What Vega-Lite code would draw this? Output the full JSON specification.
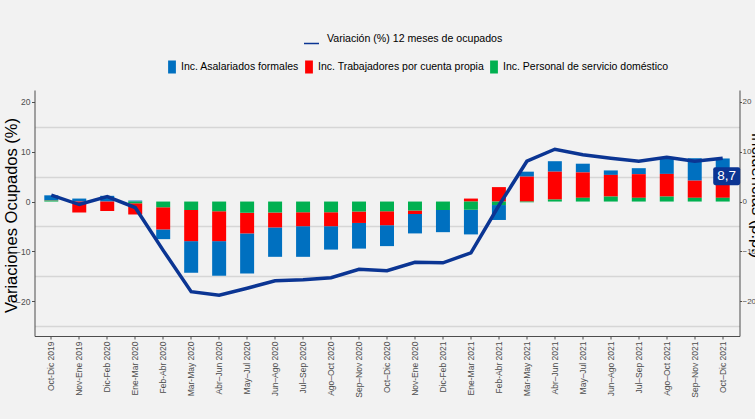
{
  "$schema": "https://vega.github.io/schema/vega-lite/v6.json",
  "width": 705,
  "height": 246,
  "autosize": {"type": "none"},
  "padding": {"left": 34.5, "top": 90, "right": 15.5, "bottom": 83},
  "background": "#F2F2F2",
  "config": {
    "view": {"stroke": null, "fill": "#F2F2F2"},
    "font": "Liberation Sans",
    "locale": {"number": {"decimal": ",", "thousands": ".", "grouping": [3], "currency": ["", " €"]}},
    "legend": {"padding": 0}
  },
  "datasets": {
    "barras": [
      {"periodo": "Oct-Dic 2019", "componente": "Inc. Asalariados formales", "valor": 1.0},
      {"periodo": "Oct-Dic 2019", "componente": "Inc. Trabajadores por cuenta propia", "valor": 0.05},
      {"periodo": "Oct-Dic 2019", "componente": "Inc. Personal de servicio doméstico", "valor": 0.2},
      {"periodo": "Nov-Ene 2019", "componente": "Inc. Asalariados formales", "valor": 0.6},
      {"periodo": "Nov-Ene 2019", "componente": "Inc. Trabajadores por cuenta propia", "valor": -2.2},
      {"periodo": "Nov-Ene 2019", "componente": "Inc. Personal de servicio doméstico", "valor": 0.0},
      {"periodo": "Dic-Feb 2020", "componente": "Inc. Asalariados formales", "valor": 1.15},
      {"periodo": "Dic-Feb 2020", "componente": "Inc. Trabajadores por cuenta propia", "valor": -1.9},
      {"periodo": "Dic-Feb 2020", "componente": "Inc. Personal de servicio doméstico", "valor": 0.0},
      {"periodo": "Ene-Mar 2020", "componente": "Inc. Asalariados formales", "valor": 0.2},
      {"periodo": "Ene-Mar 2020", "componente": "Inc. Trabajadores por cuenta propia", "valor": -2.25},
      {"periodo": "Ene-Mar 2020", "componente": "Inc. Personal de servicio doméstico", "valor": -0.35},
      {"periodo": "Feb-Abr 2020", "componente": "Inc. Asalariados formales", "valor": -1.95},
      {"periodo": "Feb-Abr 2020", "componente": "Inc. Trabajadores por cuenta propia", "valor": -4.45},
      {"periodo": "Feb-Abr 2020", "componente": "Inc. Personal de servicio doméstico", "valor": -1.15},
      {"periodo": "Mar-May 2020", "componente": "Inc. Asalariados formales", "valor": -6.35},
      {"periodo": "Mar-May 2020", "componente": "Inc. Trabajadores por cuenta propia", "valor": -6.25},
      {"periodo": "Mar-May 2020", "componente": "Inc. Personal de servicio doméstico", "valor": -1.7},
      {"periodo": "Abr–Jun 2020", "componente": "Inc. Asalariados formales", "valor": -6.95},
      {"periodo": "Abr–Jun 2020", "componente": "Inc. Trabajadores por cuenta propia", "valor": -6.0},
      {"periodo": "Abr–Jun 2020", "componente": "Inc. Personal de servicio doméstico", "valor": -1.95},
      {"periodo": "May–Jul 2020", "componente": "Inc. Asalariados formales", "valor": -8.05},
      {"periodo": "May–Jul 2020", "componente": "Inc. Trabajadores por cuenta propia", "valor": -4.15},
      {"periodo": "May–Jul 2020", "componente": "Inc. Personal de servicio doméstico", "valor": -2.25},
      {"periodo": "Jun–Ago 2020", "componente": "Inc. Asalariados formales", "valor": -5.9},
      {"periodo": "Jun–Ago 2020", "componente": "Inc. Trabajadores por cuenta propia", "valor": -3.0},
      {"periodo": "Jun–Ago 2020", "componente": "Inc. Personal de servicio doméstico", "valor": -2.2},
      {"periodo": "Jul–Sep 2020", "componente": "Inc. Asalariados formales", "valor": -6.15},
      {"periodo": "Jul–Sep 2020", "componente": "Inc. Trabajadores por cuenta propia", "valor": -2.8},
      {"periodo": "Jul–Sep 2020", "componente": "Inc. Personal de servicio doméstico", "valor": -2.15},
      {"periodo": "Ago–Oct 2020", "componente": "Inc. Asalariados formales", "valor": -4.7},
      {"periodo": "Ago–Oct 2020", "componente": "Inc. Trabajadores por cuenta propia", "valor": -2.8},
      {"periodo": "Ago–Oct 2020", "componente": "Inc. Personal de servicio doméstico", "valor": -2.15},
      {"periodo": "Sep–Nov 2020", "componente": "Inc. Asalariados formales", "valor": -5.15},
      {"periodo": "Sep–Nov 2020", "componente": "Inc. Trabajadores por cuenta propia", "valor": -2.3},
      {"periodo": "Sep–Nov 2020", "componente": "Inc. Personal de servicio doméstico", "valor": -2.0},
      {"periodo": "Oct–Dic 2020", "componente": "Inc. Asalariados formales", "valor": -4.2},
      {"periodo": "Oct–Dic 2020", "componente": "Inc. Trabajadores por cuenta propia", "valor": -2.8},
      {"periodo": "Oct–Dic 2020", "componente": "Inc. Personal de servicio doméstico", "valor": -1.95},
      {"periodo": "Nov-Ene 2020", "componente": "Inc. Asalariados formales", "valor": -3.9},
      {"periodo": "Nov-Ene 2020", "componente": "Inc. Trabajadores por cuenta propia", "valor": -0.7},
      {"periodo": "Nov-Ene 2020", "componente": "Inc. Personal de servicio doméstico", "valor": -1.8},
      {"periodo": "Dic-Feb 2021", "componente": "Inc. Asalariados formales", "valor": -4.45},
      {"periodo": "Dic-Feb 2021", "componente": "Inc. Trabajadores por cuenta propia", "valor": 0.0},
      {"periodo": "Dic-Feb 2021", "componente": "Inc. Personal de servicio doméstico", "valor": -1.7},
      {"periodo": "Ene-Mar 2021", "componente": "Inc. Asalariados formales", "valor": -4.95},
      {"periodo": "Ene-Mar 2021", "componente": "Inc. Trabajadores por cuenta propia", "valor": 0.6},
      {"periodo": "Ene-Mar 2021", "componente": "Inc. Personal de servicio doméstico", "valor": -1.65},
      {"periodo": "Feb-Abr 2021", "componente": "Inc. Asalariados formales", "valor": -3.0},
      {"periodo": "Feb-Abr 2021", "componente": "Inc. Trabajadores por cuenta propia", "valor": 2.9},
      {"periodo": "Feb-Abr 2021", "componente": "Inc. Personal de servicio doméstico", "valor": -0.7},
      {"periodo": "Mar-May 2021", "componente": "Inc. Asalariados formales", "valor": 1.0},
      {"periodo": "Mar-May 2021", "componente": "Inc. Trabajadores por cuenta propia", "valor": 5.0},
      {"periodo": "Mar-May 2021", "componente": "Inc. Personal de servicio doméstico", "valor": -0.15},
      {"periodo": "Abr–Jun 2021", "componente": "Inc. Asalariados formales", "valor": 2.1},
      {"periodo": "Abr–Jun 2021", "componente": "Inc. Trabajadores por cuenta propia", "valor": 5.6},
      {"periodo": "Abr–Jun 2021", "componente": "Inc. Personal de servicio doméstico", "valor": 0.4},
      {"periodo": "May–Jul 2021", "componente": "Inc. Asalariados formales", "valor": 1.75},
      {"periodo": "May–Jul 2021", "componente": "Inc. Trabajadores por cuenta propia", "valor": 5.1},
      {"periodo": "May–Jul 2021", "componente": "Inc. Personal de servicio doméstico", "valor": 0.75},
      {"periodo": "Jun–Ago 2021", "componente": "Inc. Asalariados formales", "valor": 0.9},
      {"periodo": "Jun–Ago 2021", "componente": "Inc. Trabajadores por cuenta propia", "valor": 4.35},
      {"periodo": "Jun–Ago 2021", "componente": "Inc. Personal de servicio doméstico", "valor": 1.0},
      {"periodo": "Jul–Sep 2021", "componente": "Inc. Asalariados formales", "valor": 1.2},
      {"periodo": "Jul–Sep 2021", "componente": "Inc. Trabajadores por cuenta propia", "valor": 4.75},
      {"periodo": "Jul–Sep 2021", "componente": "Inc. Personal de servicio doméstico", "valor": 0.75},
      {"periodo": "Ago–Oct 2021", "componente": "Inc. Asalariados formales", "valor": 3.35},
      {"periodo": "Ago–Oct 2021", "componente": "Inc. Trabajadores por cuenta propia", "valor": 4.55},
      {"periodo": "Ago–Oct 2021", "componente": "Inc. Personal de servicio doméstico", "valor": 1.0},
      {"periodo": "Sep–Nov 2021", "componente": "Inc. Asalariados formales", "valor": 4.5},
      {"periodo": "Sep–Nov 2021", "componente": "Inc. Trabajadores por cuenta propia", "valor": 3.45},
      {"periodo": "Sep–Nov 2021", "componente": "Inc. Personal de servicio doméstico", "valor": 0.75},
      {"periodo": "Oct–Dic 2021", "componente": "Inc. Asalariados formales", "valor": 4.5},
      {"periodo": "Oct–Dic 2021", "componente": "Inc. Trabajadores por cuenta propia", "valor": 3.4},
      {"periodo": "Oct–Dic 2021", "componente": "Inc. Personal de servicio doméstico", "valor": 0.75}
    ],
    "linea": [
      {"periodo": "Oct-Dic 2019", "variacion": 1.3},
      {"periodo": "Nov-Ene 2019", "variacion": -0.6},
      {"periodo": "Dic-Feb 2020", "variacion": 1.0},
      {"periodo": "Ene-Mar 2020", "variacion": -1.2},
      {"periodo": "Feb-Abr 2020", "variacion": -9.8},
      {"periodo": "Mar-May 2020", "variacion": -18.1},
      {"periodo": "Abr–Jun 2020", "variacion": -18.8},
      {"periodo": "May–Jul 2020", "variacion": -17.4},
      {"periodo": "Jun–Ago 2020", "variacion": -15.9},
      {"periodo": "Jul–Sep 2020", "variacion": -15.7},
      {"periodo": "Ago–Oct 2020", "variacion": -15.3},
      {"periodo": "Sep–Nov 2020", "variacion": -13.6},
      {"periodo": "Oct–Dic 2020", "variacion": -13.9},
      {"periodo": "Nov-Ene 2020", "variacion": -12.2},
      {"periodo": "Dic-Feb 2021", "variacion": -12.3},
      {"periodo": "Ene-Mar 2021", "variacion": -10.3},
      {"periodo": "Feb-Abr 2021", "variacion": -0.8},
      {"periodo": "Mar-May 2021", "variacion": 8.1},
      {"periodo": "Abr–Jun 2021", "variacion": 10.5},
      {"periodo": "May–Jul 2021", "variacion": 9.4},
      {"periodo": "Jun–Ago 2021", "variacion": 8.7},
      {"periodo": "Jul–Sep 2021", "variacion": 8.1},
      {"periodo": "Ago–Oct 2021", "variacion": 8.9},
      {"periodo": "Sep–Nov 2021", "variacion": 8.1},
      {"periodo": "Oct–Dic 2021", "variacion": 8.7}
    ]
  },
  "encoding": {
    "x": {
      "field": "periodo",
      "type": "nominal",
      "sort": null,
      "scale": {"paddingInner": 0.5, "paddingOuter": 0.35},
      "axis": {
        "title": null,
        "labelAngle": 270,
        "labelAlign": "right",
        "labelBaseline": "middle",
        "labelFont": "Liberation Sans",
        "labelFontSize": 8.5,
        "labelColor": "#4D4D4D",
        "labelPadding": 2,
        "tickSize": 3,
        "tickColor": "#4D4D4D",
        "domainColor": "#4D4D4D",
        "grid": false
      }
    }
  },
  "layer": [
    {
      "data": {"name": "barras"},
      "transform": [
        {"calculate": "indexof(['Inc. Personal de servicio doméstico','Inc. Trabajadores por cuenta propia','Inc. Asalariados formales'], datum.componente)", "as": "orden"}
      ],
      "mark": {"type": "bar"},
      "encoding": {
        "y": {
          "field": "valor",
          "type": "quantitative",
          "stack": "zero",
          "scale": {"domain": [-27, 22.4], "nice": false, "zero": false},
          "axis": {
            "orient": "left",
            "title": "Variaciones Ocupados (%)",
            "titleFont": "Liberation Sans",
            "titleFontSize": 16.5,
            "titleFontWeight": "normal",
            "titleColor": "#000000",
            "titleX": -23,
            "titleY": 125,
            "titleAlign": "center",
            "titleBaseline": "middle",
            "titleAngle": 270,
            "values": [-25, -20, -15, -10, -5, 0, 5, 10, 15, 20],
            "labelExpr": "datum.value % 10 === 0 ? datum.label : ''",
            "labelFont": "Liberation Sans",
            "labelFontSize": 8.5,
            "labelColor": "#4D4D4D",
            "labelPadding": 1.5,
            "tickSize": 3,
            "tickColor": "#4D4D4D",
            "tickOpacity": {"condition": {"test": "datum.value % 10 !== 0", "value": 0}, "value": 1},
            "domainColor": "#4D4D4D",
            "grid": true,
            "gridColor": "#D6D6D6",
            "gridWidth": 1.5,
            "gridOpacity": {"condition": {"test": "datum.value % 10 === 0", "value": 0}, "value": 1}
          }
        },
        "color": {
          "field": "componente",
          "type": "nominal",
          "scale": {
            "domain": ["Inc. Asalariados formales", "Inc. Trabajadores por cuenta propia", "Inc. Personal de servicio doméstico"],
            "range": ["#0070C0", "#FF0000", "#00B050"]
          },
          "legend": {
            "title": null,
            "orient": "none",
            "direction": "horizontal",
            "legendX": 131,
            "legendY": -29.5,
            "symbolType": "M-0.6,-1H0.6V1H-0.6Z",
            "symbolSize": 169,
            "symbolStrokeWidth": 0,
            "symbolOpacity": 1,
            "labelFont": "Liberation Sans",
            "labelFontSize": 10.5,
            "labelColor": "#000000",
            "labelOffset": 2.5,
            "columnPadding": 3,
            "labelLimit": 400
          }
        },
        "order": {"field": "orden", "type": "quantitative"}
      }
    },
    {
      "data": {"name": "linea"},
      "mark": {"type": "line", "strokeWidth": 3.5},
      "encoding": {
        "y": {
          "field": "variacion",
          "type": "quantitative",
          "axis": {
            "orient": "right",
            "title": "Incidencias (p.p.)",
            "titleFont": "Liberation Sans",
            "titleFontSize": 16.5,
            "titleFontWeight": "normal",
            "titleColor": "#000000",
            "titleX": 17,
            "titleY": 105,
            "titleAlign": "center",
            "titleBaseline": "middle",
            "titleAngle": 90,
            "values": [-20, -10, 0, 10, 20],
            "labelFont": "Liberation Sans",
            "labelFontSize": 8,
            "labelColor": "#4D4D4D",
            "labelPadding": 0.5,
            "tickSize": 2,
            "tickColor": "#4D4D4D",
            "domainColor": "#4D4D4D",
            "grid": false
          }
        },
        "stroke": {
          "datum": "Variación (%) 12 meses de ocupados",
          "type": "nominal",
          "scale": {"range": ["#0B3593"]},
          "legend": {
            "title": null,
            "orient": "none",
            "legendX": 268.5,
            "legendY": -59.5,
            "symbolType": "M-1,0.6H1",
            "symbolSize": 225,
            "symbolStrokeWidth": 1.5,
            "labelFont": "Liberation Sans",
            "labelFontSize": 10.6,
            "labelColor": "#000000",
            "labelOffset": 7,
            "labelLimit": 400
          }
        }
      }
    },
    {
      "data": {"name": "linea"},
      "transform": [{"filter": "datum.periodo === 'Oct–Dic 2021'"}],
      "mark": {
        "type": "point",
        "shape": "M-0.85,-0.66H0.85Q1,-0.66 1,-0.51V0.51Q1,0.66 0.85,0.66H-0.85Q-1,0.66 -1,0.51V-0.51Q-1,-0.66 -0.85,-0.66Z",
        "size": 729,
        "filled": true,
        "fill": "#0B3593",
        "opacity": 1,
        "strokeWidth": 0,
        "xOffset": 4,
        "yOffset": 18
      },
      "encoding": {
        "y": {"field": "variacion", "type": "quantitative", "axis": null}
      }
    },
    {
      "data": {"name": "linea"},
      "transform": [{"filter": "datum.periodo === 'Oct–Dic 2021'"}],
      "mark": {
        "type": "text",
        "font": "Liberation Sans",
        "fontSize": 13.5,
        "color": "#FFFFFF",
        "align": "center",
        "baseline": "middle",
        "dx": 4,
        "dy": 18
      },
      "encoding": {
        "y": {"field": "variacion", "type": "quantitative", "axis": null},
        "text": {"field": "variacion", "type": "quantitative", "format": ".1f"}
      }
    }
  ],
  "resolve": {"scale": {"y": "shared"}, "axis": {"y": "independent"}}
}
